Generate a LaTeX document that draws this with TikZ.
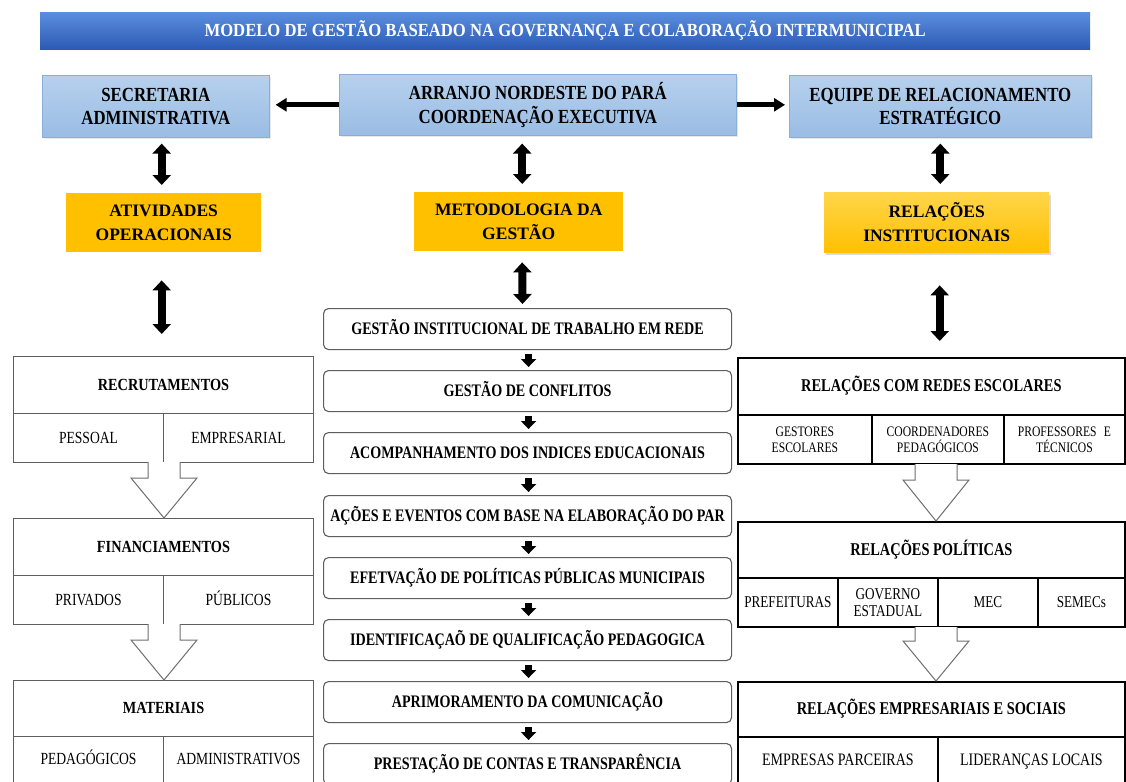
\documentclass[tikz,border=0pt]{standalone}
\usepackage{fontspec}
\setmainfont{Liberation Serif}
\newfontfamily\cnd[FakeStretch=0.8]{Liberation Serif}
\newfontfamily\cndT[FakeStretch=0.9]{Liberation Serif}
\newfontfamily\cndB[FakeStretch=0.84]{Liberation Serif}
\usetikzlibrary{arrows.meta,calc,shadows}
\definecolor{titleTop}{HTML}{5B8EDF}
\definecolor{titleBot}{HTML}{2B5AB4}
\definecolor{blueTop}{HTML}{B6D1EE}
\definecolor{blueBot}{HTML}{9ABCE3}
\definecolor{blueEdge}{HTML}{8AAED8}
\definecolor{gold}{HTML}{FFC000}
\definecolor{goldLight}{HTML}{FFD54A}
\definecolor{grayEdge}{HTML}{5E5E5E}
\newcommand\fs[2]{\fontsize{#1}{#2}\selectfont}
\newcommand\blockarrow[6]{% x, top y, tip y, stem half, head half, stem length
  \draw[openarr] (#1-#4,#2) -- (#1-#4,#2+#6) -- (#1-#5,#2+#6) -- (#1,#3)
    -- (#1+#5,#2+#6) -- (#1+#4,#2+#6) -- (#1+#4,#2);}
\begin{document}
\begin{tikzpicture}[x=1pt,y=-1pt,
  titlebar/.style={top color=titleTop, bottom color=titleBot, text=white,
    inner sep=0, anchor=north west, font=\cndT\bfseries\fs{18.5}{22}},
  bluebox/.style={draw=blueEdge, line width=0.6pt, top color=blueTop, bottom color=blueBot,
    inner sep=0, anchor=north west, align=center, font=\cndB\bfseries\fs{20}{23.5},
    drop shadow={opacity=0.18, shadow xshift=1.2pt, shadow yshift=-1.5pt}},
  orangebox/.style={fill=gold, inner sep=0, anchor=north west, align=center,
    font=\bfseries\fs{17.5}{24.5}},
  orangebox2/.style={top color=goldLight, bottom color=gold, inner sep=0, anchor=north west,
    align=center, font=\bfseries\fs{17.5}{24.5},
    drop shadow={opacity=0.3, shadow xshift=2pt, shadow yshift=-2.5pt}},
  listbox/.style={draw=grayEdge, line width=1.1pt, rounded corners=5pt, fill=white,
    minimum width=408, minimum height=41, inner sep=0, anchor=north west,
    text height=12pt, text depth=2pt, font=\cnd\bfseries\fs{17.6}{20}},
  lhead/.style={draw=grayEdge, line width=1pt, inner sep=0, anchor=north west,
    minimum width=300, text height=11pt, text depth=1pt, font=\cndB\bfseries\fs{17}{19}},
  lcell/.style={draw=grayEdge, line width=1pt, inner sep=0, anchor=north west,
    minimum width=150, align=center, text height=11pt, text depth=1pt, font=\cnd\fs{17}{19}},
  rhead/.style={draw=black, line width=1.8pt, inner sep=0, anchor=north west,
    minimum width=387, text height=12pt, text depth=1pt, font=\cnd\bfseries\fs{18}{20}},
  rcell/.style={draw=black, line width=1.8pt, inner sep=0, anchor=north west,
    align=center, font=\cnd\fs{16.5}{17}},
  rsmall/.style={rcell, font=\cnd\fs{14.5}{16}},
  harrow/.style={line width=5pt, -{Triangle[length=11pt,width=13pt]}},
  darrow/.style={line width=8pt, {Triangle[length=10pt,width=18pt]}-{Triangle[length=10pt,width=18pt]}},
  sarrow/.style={line width=7.5pt, -{Triangle[length=8pt,width=15pt]}},
  openarr/.style={draw=grayEdge!90, line width=1pt, fill=white, line join=miter}
]
\useasboundingbox (0,0) rectangle (1126,781);
\clip (0,0) rectangle (1126,781);

% title
\node[titlebar, minimum width=1050, minimum height=37] (title) at (40,12)
  {MODELO DE GESTÃO BASEADO NA GOVERNANÇA E COLABORAÇÃO INTERMUNICIPAL};

% top boxes
\node[bluebox, minimum width=227, minimum height=62] (sec) at (42,75) {SECRETARIA\\ADMINISTRATIVA};
\node[bluebox, minimum width=397, minimum height=61] (arr) at (339,74) {ARRANJO NORDESTE DO PARÁ\\COORDENAÇÃO EXECUTIVA};
\node[bluebox, minimum width=302, minimum height=62] (eq) at (789,75) {EQUIPE DE RELACIONAMENTO\\ESTRATÉGICO};

% orange boxes
\node[orangebox, minimum width=195, minimum height=59] (atv) at (66,193) {ATIVIDADES\\OPERACIONAIS};
\node[orangebox, minimum width=209, minimum height=59] (met) at (414,192) {METODOLOGIA DA\\GESTÃO};
\node[orangebox2, minimum width=225, minimum height=60] (rel) at (824,192) {RELAÇÕES\\INSTITUCIONAIS};

% horizontal arrows
\draw[harrow] (arr.west) -- ([xshift=6pt]sec.east |- arr.west);
\draw[harrow] (arr.east) -- ([xshift=-4pt]eq.west |- arr.east);

% left column
\node[lhead, minimum height=57] (recH) at (13,356) {RECRUTAMENTOS};
\node[lcell, minimum height=49] (recA) at (13,413) {PESSOAL};
\node[lcell, minimum height=49] (recB) at (163,413) {EMPRESARIAL};
\node[lhead, minimum height=57] (finH) at (13,518) {FINANCIAMENTOS};
\node[lcell, minimum height=49] (finA) at (13,575) {PRIVADOS};
\node[lcell, minimum height=49] (finB) at (163,575) {PÚBLICOS};
\node[lhead, minimum height=56] (matH) at (13,680) {MATERIAIS};
\node[lcell, minimum height=46] (matA) at (13,736) {PEDAGÓGICOS};
\node[lcell, minimum height=46] (matB) at (163,736) {ADMINISTRATIVOS};
\blockarrow{164}{462}{518}{16}{33}{16}
\blockarrow{164}{624}{680}{16}{33}{16}

% center column
\node[listbox] (l1) at (323,308) {GESTÃO INSTITUCIONAL DE TRABALHO EM REDE};
\node[listbox] (l2) at (323,370) {GESTÃO DE CONFLITOS};
\node[listbox] (l3) at (323,432) {ACOMPANHAMENTO DOS INDICES EDUCACIONAIS};
\node[listbox] (l4) at (323,495) {AÇÕES E EVENTOS COM BASE NA ELABORAÇÃO DO PAR};
\node[listbox] (l5) at (323,557) {EFETVAÇÃO DE POLÍTICAS PÚBLICAS MUNICIPAIS};
\node[listbox] (l6) at (323,619) {IDENTIFICAÇAÕ DE QUALIFICAÇÃO PEDAGOGICA};
\node[listbox] (l7) at (323,681) {APRIMORAMENTO DA COMUNICAÇÃO};
\node[listbox] (l8) at (323,743) {PRESTAÇÃO DE CONTAS E TRANSPARÊNCIA};
\foreach \a/\b in {l1/l2,l2/l3,l3/l4,l4/l5,l5/l6,l6/l7,l7/l8}
  \draw[sarrow] ([xshift=1pt,yshift=-4pt]\a.south) -- ([xshift=1pt,yshift=3pt]\b.north);

% right column
\node[rhead, minimum height=57] (redH) at (737,357) {RELAÇÕES COM REDES ESCOLARES};
\node[rsmall, minimum width=134, minimum height=49] (redA) at (737,414) {GESTORES\\ESCOLARES};
\node[rsmall, minimum width=132, minimum height=49] (redB) at (871,414) {COORDENADORES\\PEDAGÓGICOS};
\node[rsmall, minimum width=121, minimum height=49] (redC) at (1003,414) {PROFESSORES\enspace E\\TÉCNICOS};
\node[rhead, minimum height=56] (polH) at (737,521) {RELAÇÕES POLÍTICAS};
\node[rcell, minimum width=100, minimum height=49] (polA) at (737,577) {PREFEITURAS};
\node[rcell, minimum width=100, minimum height=49] (polB) at (837,577) {GOVERNO\\ESTADUAL};
\node[rcell, minimum width=100, minimum height=49] (polC) at (937,577) {MEC};
\node[rcell, minimum width=87, minimum height=49] (polD) at (1037,577) {SEMECs};
\node[rhead, minimum height=55] (empH) at (737,681) {RELAÇÕES EMPRESARIAIS E SOCIAIS};
\node[rcell, minimum width=200, minimum height=46, text height=12pt, text depth=1pt, font=\cnd\fs{17.5}{19}] (empA) at (737,736) {EMPRESAS PARCEIRAS};
\node[rcell, minimum width=187, minimum height=46, text height=12pt, text depth=1pt, font=\cnd\fs{17.5}{19}] (empB) at (937,736) {LIDERANÇAS LOCAIS};
\blockarrow{936}{464}{521}{21}{33}{16}
\blockarrow{936}{627}{681}{21}{33}{14}

% vertical double arrows
\draw[darrow] ([xshift=-2pt,yshift=-6pt]sec.south -| atv.north) -- ([xshift=-2pt,yshift=8pt]atv.north);
\draw[darrow] ([xshift=3.5pt,yshift=-8pt]met.north |- arr.south) -- ([xshift=3.5pt,yshift=8pt]met.north);
\draw[darrow] ([yshift=-6pt]eq.south) -- ([yshift=8pt]eq.south |- rel.north);
\draw[darrow] ([xshift=-2pt,yshift=-28pt]atv.south) -- ([xshift=-2pt,yshift=22pt]atv.south |- recH.north);
\draw[darrow] ([xshift=3.5pt,yshift=-11pt]met.south) -- ([xshift=-5pt,yshift=4pt]l1.north);
\draw[darrow] ([xshift=3pt,yshift=-33pt]rel.south) -- ([xshift=3pt,yshift=16pt]rel.south |- redH.north);
\end{tikzpicture}
\end{document}
